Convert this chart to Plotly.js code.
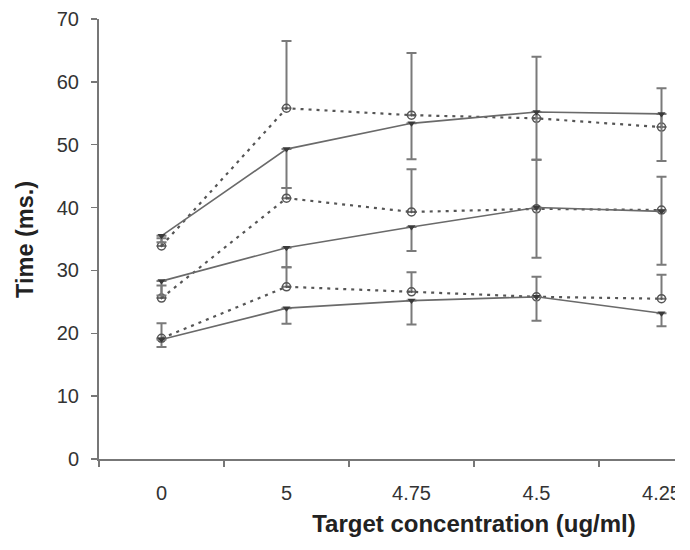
<!DOCTYPE html>
<html>
<head>
<meta charset="utf-8">
<script src="https://cdn.plot.ly/plotly-3.0.1.min.js"></script>
<style>
  html, body { margin: 0; padding: 0; background: #ffffff; }
  #wrap { width: 675px; height: 550px; overflow: hidden; }
  #chart { width: 870px; height: 550px; }
</style>
</head>
<body>
<div id="wrap"><div id="chart"></div></div>
<script>
// Category tick labels (x axis)
const categories = ['0', '5', '4.75', '4.5', '4.25'];

// Solid-line series (means) and their lower (minus) error values
const solidTop = [35.5, 49.3, 53.4, 55.2, 54.9];
const solidTopMinus = [1.0, 6.2, 5.7, 7.6, 7.5];
const solidMid = [28.3, 33.6, 36.9, 40.0, 39.4];
const solidMidMinus = [2.3, 3.1, 3.8, 8.0, 8.5];
const solidBot = [19.0, 24.0, 25.2, 25.8, 23.2];
const solidBotMinus = [1.2, 2.5, 3.8, 3.8, 2.1];

// Dotted-line series (means) and their upper (plus) error values
const dotTop = [33.9, 55.8, 54.7, 54.2, 52.8];
const dotTopPlus = [1.2, 10.7, 9.9, 9.8, 6.2];
const dotMid = [25.6, 41.5, 39.3, 39.8, 39.6];
const dotMidPlus = [2.0, 1.6, 6.8, 7.8, 5.3];
const dotBot = [19.2, 27.4, 26.6, 25.8, 25.5];
const dotBotPlus = [2.4, 3.1, 3.1, 3.2, 3.8];

const zeros = categories.map(() => 0);
const errColor = '#7a7a7a';

function solidTrace(y, minus) {
  return {
    type: 'scatter', mode: 'lines+markers', x: categories, y: y,
    showlegend: false, hoverinfo: 'skip',
    line: { color: '#6a6a6a', width: 1.6 },
    marker: { symbol: 'triangle-down', size: 7, color: '#3a3a3a' },
    error_y: { type: 'data', symmetric: false, array: zeros, arrayminus: minus,
               color: errColor, thickness: 2, width: 5 }
  };
}
function dotTrace(y, plus) {
  return {
    type: 'scatter', mode: 'lines+markers', x: categories, y: y,
    showlegend: false, hoverinfo: 'skip',
    line: { color: '#555555', width: 2.2, dash: '3px,5px' },
    marker: { symbol: 'circle-open-dot', size: 8, color: '#555555', line: { width: 1.5 } },
    error_y: { type: 'data', symmetric: false, array: plus, arrayminus: zeros,
               color: errColor, thickness: 2, width: 5 }
  };
}

const traces = [
  dotTrace(dotTop, dotTopPlus),
  dotTrace(dotMid, dotMidPlus),
  dotTrace(dotBot, dotBotPlus),
  solidTrace(solidTop, solidTopMinus),
  solidTrace(solidMid, solidMidMinus),
  solidTrace(solidBot, solidBotMinus)
];

const fontFam = '"Liberation Sans", Arial, sans-serif';

const layout = {
  width: 870, height: 550,
  margin: { l: 99, r: 21, t: 19, b: 91 },
  paper_bgcolor: '#ffffff', plot_bgcolor: '#ffffff',
  showlegend: false,
  font: { family: fontFam, color: '#333333' },
  xaxis: {
    type: 'category', categoryorder: 'array', categoryarray: categories,
    range: [-0.5, 5.5], tickson: 'boundaries',
    showline: true, linecolor: '#777777', linewidth: 2,
    ticks: 'outside', ticklen: 6, tickwidth: 1.5, tickcolor: '#777777',
    showgrid: false, zeroline: false,
    tickfont: { size: 20, color: '#333333' }, ticklabelstandoff: 15,
    title: { text: '<b>Target concentration (ug/ml)</b>', font: { size: 24, color: '#222222' }, standoff: 12 }
  },
  yaxis: {
    range: [0, 70], tickmode: 'linear', tick0: 0, dtick: 10,
    showline: true, linecolor: '#777777', linewidth: 2,
    ticks: 'outside', ticklen: 6, tickwidth: 1.5, tickcolor: '#777777',
    showgrid: false, zeroline: false,
    tickfont: { size: 20, color: '#333333' }, ticklabelstandoff: 8
  },
  annotations: [{
    text: '<b>Time (ms.)</b>', textangle: -90, showarrow: false,
    xref: 'paper', yref: 'paper', x: -0.0987, y: 0.5,
    xanchor: 'center', yanchor: 'middle',
    font: { size: 23.5, color: '#222222', family: fontFam }
  }]
};

Plotly.newPlot('chart', traces, layout, { displayModeBar: false, staticPlot: true });
</script>
</body>
</html>
